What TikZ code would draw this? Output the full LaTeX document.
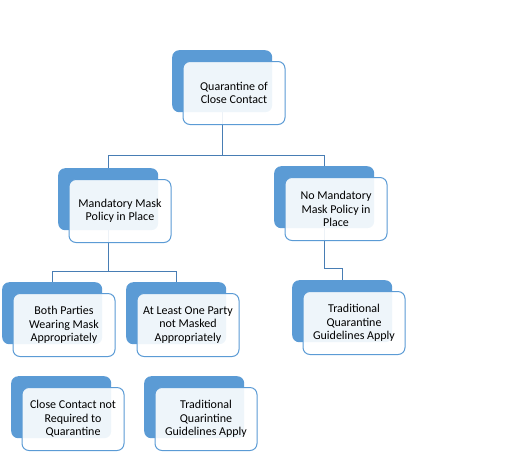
\documentclass[tikz,border=0pt]{standalone}
\usepackage{fontspec}
\setmainfont{Carlito}
\usetikzlibrary{backgrounds}

\definecolor{boxblue}{RGB}{91,155,213}
\definecolor{linkblue}{RGB}{72,125,180}

\tikzset{
  backbox/.style={fill=boxblue, rounded corners=7pt, minimum width=100pt,
    minimum height=62pt, anchor=north west, inner sep=0pt},
  frontbox/.style={draw=boxblue, line width=1pt, fill=white, fill opacity=0.9,
    text opacity=1, rounded corners=7pt, minimum width=102pt, minimum height=63pt,
    anchor=north west, align=center, inner sep=2pt,
    font=\fontsize{12}{13.5}\selectfont},
  link/.style={draw=linkblue, line width=1.1pt}
}

% back box at (x,y), front box shifted by (10.5,11)
\newcommand{\pairbox}[4]{%
  \node[backbox] (#1-b) at (#2,#3) {};
  \node[frontbox] (#1) at (#2+10.5,#3+11) {#4};
}

\begin{document}
\begin{tikzpicture}[x=1pt, y=-1pt]
  \useasboundingbox (0,0) rectangle (516,451);

  % boxes
  \pairbox{top}{172}{50}{Quarantine of\\Close Contact}
  \pairbox{mand}{58}{168}{Mandatory Mask\\Policy in Place}
  \pairbox{nomand}{274}{166}{No Mandatory\\Mask Policy in\\Place}
  \pairbox{both}{2}{282}{Both Parties\\Wearing Mask\\Appropriately}
  \pairbox{least}{126}{282}{At Least One Party\\not Masked\\Appropriately}
  \pairbox{tradR}{292}{280}{Traditional\\Quarantine\\Guidelines Apply}
  \pairbox{close}{11}{376}{Close Contact not\\Required to\\Quarantine}
  \pairbox{tradB}{144}{376}{Traditional\\Quarintine\\Guidelines Apply}

  % connectors
  \begin{scope}[on background layer]
    \draw[link] (top-b.south) -- ++(0,43) -| (mand-b.north);
    \draw[link] (top-b.south) ++(0,43) -| (nomand-b.north);
    \draw[link] (mand-b.south) -- ++(0,41) -| (both-b.north);
    \draw[link] (mand-b.south) ++(0,41) -| (least-b.north);
    \draw[link] (nomand-b.south) -- ++(0,40) -| (tradR-b.north);
  \end{scope}
\end{tikzpicture}
\end{document}
